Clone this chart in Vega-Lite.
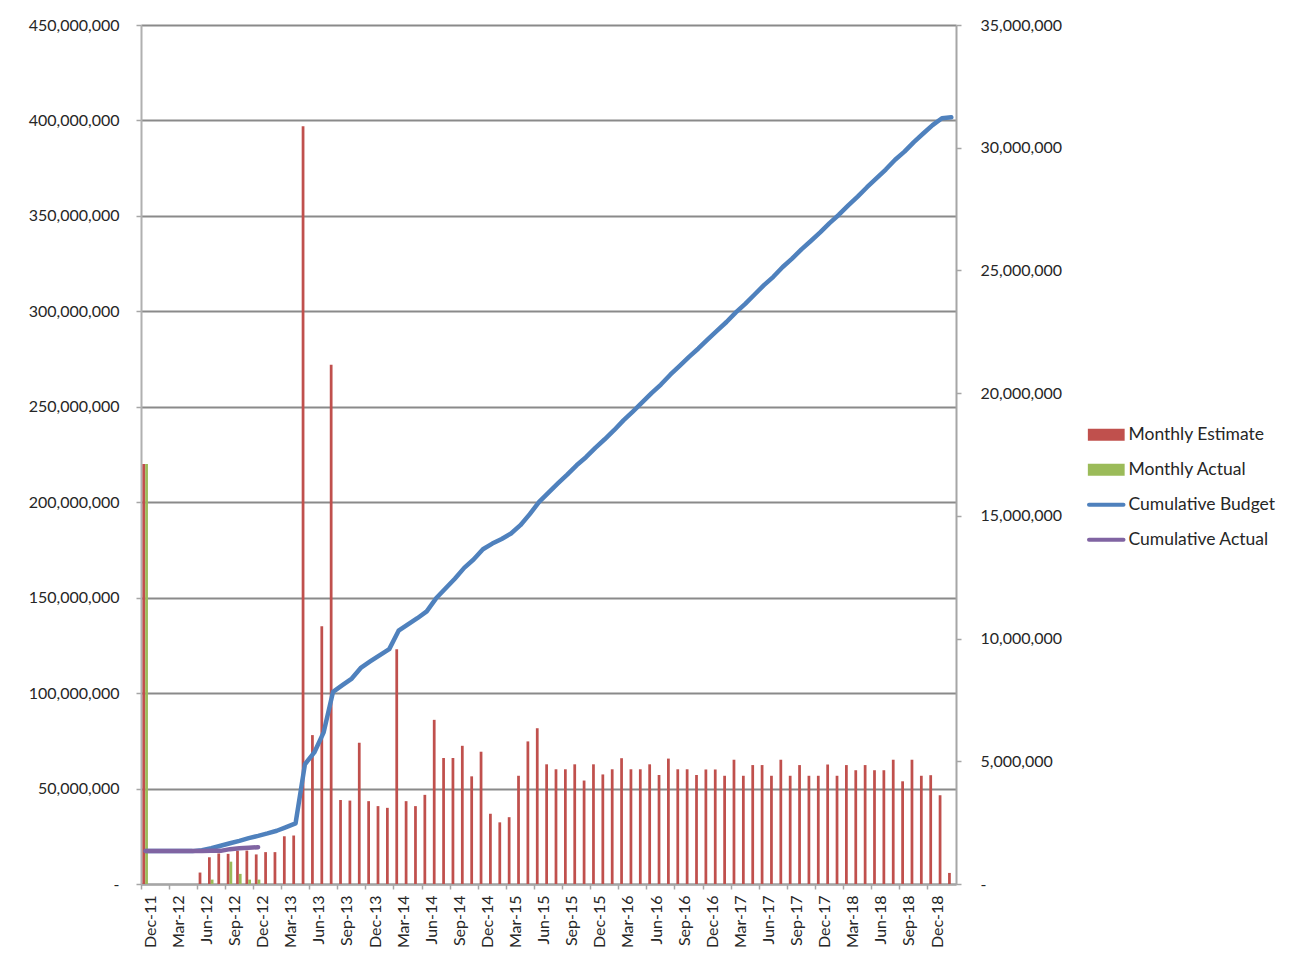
{
  "$schema": "https://vega.github.io/schema/vega-lite/v6.json",
  "width": 815,
  "height": 859,
  "autosize": {"type": "none"},
  "padding": {"left": 141, "top": 25, "right": 339, "bottom": 84},
  "background": "white",
  "config": {
    "font": "Lato",
    "view": {"stroke": null},
    "axis": {"labelFont": "Lato", "labelFontSize": 16, "labelColor": "#262626", "title": null}
  },
  "data": {"values": [
    {"month": "2011-12", "series": "Monthly Estimate", "value": 220000000},
    {"month": "2012-06", "series": "Monthly Estimate", "value": 6000000},
    {"month": "2012-07", "series": "Monthly Estimate", "value": 14000000},
    {"month": "2012-08", "series": "Monthly Estimate", "value": 16000000},
    {"month": "2012-09", "series": "Monthly Estimate", "value": 15800000},
    {"month": "2012-10", "series": "Monthly Estimate", "value": 17500000},
    {"month": "2012-11", "series": "Monthly Estimate", "value": 17500000},
    {"month": "2012-12", "series": "Monthly Estimate", "value": 15500000},
    {"month": "2013-01", "series": "Monthly Estimate", "value": 16700000},
    {"month": "2013-02", "series": "Monthly Estimate", "value": 16700000},
    {"month": "2013-03", "series": "Monthly Estimate", "value": 25000000},
    {"month": "2013-04", "series": "Monthly Estimate", "value": 25400000},
    {"month": "2013-05", "series": "Monthly Estimate", "value": 397000000},
    {"month": "2013-06", "series": "Monthly Estimate", "value": 78000000},
    {"month": "2013-07", "series": "Monthly Estimate", "value": 135000000},
    {"month": "2013-08", "series": "Monthly Estimate", "value": 272000000},
    {"month": "2013-09", "series": "Monthly Estimate", "value": 44000000},
    {"month": "2013-10", "series": "Monthly Estimate", "value": 43700000},
    {"month": "2013-11", "series": "Monthly Estimate", "value": 74000000},
    {"month": "2013-12", "series": "Monthly Estimate", "value": 43400000},
    {"month": "2014-01", "series": "Monthly Estimate", "value": 40800000},
    {"month": "2014-02", "series": "Monthly Estimate", "value": 39900000},
    {"month": "2014-03", "series": "Monthly Estimate", "value": 123000000},
    {"month": "2014-04", "series": "Monthly Estimate", "value": 43400000},
    {"month": "2014-05", "series": "Monthly Estimate", "value": 40800000},
    {"month": "2014-06", "series": "Monthly Estimate", "value": 46700000},
    {"month": "2014-07", "series": "Monthly Estimate", "value": 86000000},
    {"month": "2014-08", "series": "Monthly Estimate", "value": 66000000},
    {"month": "2014-09", "series": "Monthly Estimate", "value": 66000000},
    {"month": "2014-10", "series": "Monthly Estimate", "value": 72400000},
    {"month": "2014-11", "series": "Monthly Estimate", "value": 56400000},
    {"month": "2014-12", "series": "Monthly Estimate", "value": 69300000},
    {"month": "2015-01", "series": "Monthly Estimate", "value": 36800000},
    {"month": "2015-02", "series": "Monthly Estimate", "value": 32300000},
    {"month": "2015-03", "series": "Monthly Estimate", "value": 35000000},
    {"month": "2015-04", "series": "Monthly Estimate", "value": 56700000},
    {"month": "2015-05", "series": "Monthly Estimate", "value": 74700000},
    {"month": "2015-06", "series": "Monthly Estimate", "value": 81600000},
    {"month": "2015-07", "series": "Monthly Estimate", "value": 62700000},
    {"month": "2015-08", "series": "Monthly Estimate", "value": 60100000},
    {"month": "2015-09", "series": "Monthly Estimate", "value": 60100000},
    {"month": "2015-10", "series": "Monthly Estimate", "value": 62700000},
    {"month": "2015-11", "series": "Monthly Estimate", "value": 54200000},
    {"month": "2015-12", "series": "Monthly Estimate", "value": 62700000},
    {"month": "2016-01", "series": "Monthly Estimate", "value": 57400000},
    {"month": "2016-02", "series": "Monthly Estimate", "value": 60100000},
    {"month": "2016-03", "series": "Monthly Estimate", "value": 65900000},
    {"month": "2016-04", "series": "Monthly Estimate", "value": 60100000},
    {"month": "2016-05", "series": "Monthly Estimate", "value": 60100000},
    {"month": "2016-06", "series": "Monthly Estimate", "value": 62700000},
    {"month": "2016-07", "series": "Monthly Estimate", "value": 57100000},
    {"month": "2016-08", "series": "Monthly Estimate", "value": 65700000},
    {"month": "2016-09", "series": "Monthly Estimate", "value": 60100000},
    {"month": "2016-10", "series": "Monthly Estimate", "value": 60100000},
    {"month": "2016-11", "series": "Monthly Estimate", "value": 57100000},
    {"month": "2016-12", "series": "Monthly Estimate", "value": 60000000},
    {"month": "2017-01", "series": "Monthly Estimate", "value": 60000000},
    {"month": "2017-02", "series": "Monthly Estimate", "value": 56700000},
    {"month": "2017-03", "series": "Monthly Estimate", "value": 65100000},
    {"month": "2017-04", "series": "Monthly Estimate", "value": 56700000},
    {"month": "2017-05", "series": "Monthly Estimate", "value": 62300000},
    {"month": "2017-06", "series": "Monthly Estimate", "value": 62300000},
    {"month": "2017-07", "series": "Monthly Estimate", "value": 56700000},
    {"month": "2017-08", "series": "Monthly Estimate", "value": 65100000},
    {"month": "2017-09", "series": "Monthly Estimate", "value": 56700000},
    {"month": "2017-10", "series": "Monthly Estimate", "value": 62300000},
    {"month": "2017-11", "series": "Monthly Estimate", "value": 56700000},
    {"month": "2017-12", "series": "Monthly Estimate", "value": 56700000},
    {"month": "2018-01", "series": "Monthly Estimate", "value": 62600000},
    {"month": "2018-02", "series": "Monthly Estimate", "value": 56700000},
    {"month": "2018-03", "series": "Monthly Estimate", "value": 62300000},
    {"month": "2018-04", "series": "Monthly Estimate", "value": 59600000},
    {"month": "2018-05", "series": "Monthly Estimate", "value": 62300000},
    {"month": "2018-06", "series": "Monthly Estimate", "value": 59600000},
    {"month": "2018-07", "series": "Monthly Estimate", "value": 59600000},
    {"month": "2018-08", "series": "Monthly Estimate", "value": 65100000},
    {"month": "2018-09", "series": "Monthly Estimate", "value": 53800000},
    {"month": "2018-10", "series": "Monthly Estimate", "value": 65100000},
    {"month": "2018-11", "series": "Monthly Estimate", "value": 56700000},
    {"month": "2018-12", "series": "Monthly Estimate", "value": 57000000},
    {"month": "2019-01", "series": "Monthly Estimate", "value": 46500000},
    {"month": "2019-02", "series": "Monthly Estimate", "value": 5800000},
    {"month": "2011-12", "series": "Monthly Actual", "value": 220000000},
    {"month": "2012-07", "series": "Monthly Actual", "value": 2300000},
    {"month": "2012-09", "series": "Monthly Actual", "value": 11700000},
    {"month": "2012-10", "series": "Monthly Actual", "value": 5300000},
    {"month": "2012-11", "series": "Monthly Actual", "value": 2300000},
    {"month": "2012-12", "series": "Monthly Actual", "value": 2300000},
    {"month": "2011-12", "series": "Cumulative Budget", "value": 1340000},
    {"month": "2012-01", "series": "Cumulative Budget", "value": 1340000},
    {"month": "2012-02", "series": "Cumulative Budget", "value": 1340000},
    {"month": "2012-03", "series": "Cumulative Budget", "value": 1340000},
    {"month": "2012-04", "series": "Cumulative Budget", "value": 1340000},
    {"month": "2012-05", "series": "Cumulative Budget", "value": 1340000},
    {"month": "2012-06", "series": "Cumulative Budget", "value": 1380000},
    {"month": "2012-07", "series": "Cumulative Budget", "value": 1460000},
    {"month": "2012-08", "series": "Cumulative Budget", "value": 1560000},
    {"month": "2012-09", "series": "Cumulative Budget", "value": 1660000},
    {"month": "2012-10", "series": "Cumulative Budget", "value": 1760000},
    {"month": "2012-11", "series": "Cumulative Budget", "value": 1870000},
    {"month": "2012-12", "series": "Cumulative Budget", "value": 1960000},
    {"month": "2013-01", "series": "Cumulative Budget", "value": 2060000},
    {"month": "2013-02", "series": "Cumulative Budget", "value": 2170000},
    {"month": "2013-03", "series": "Cumulative Budget", "value": 2320000},
    {"month": "2013-04", "series": "Cumulative Budget", "value": 2470000},
    {"month": "2013-05", "series": "Cumulative Budget", "value": 4880000},
    {"month": "2013-06", "series": "Cumulative Budget", "value": 5360000},
    {"month": "2013-07", "series": "Cumulative Budget", "value": 6180000},
    {"month": "2013-08", "series": "Cumulative Budget", "value": 7830000},
    {"month": "2013-09", "series": "Cumulative Budget", "value": 8100000},
    {"month": "2013-10", "series": "Cumulative Budget", "value": 8370000},
    {"month": "2013-11", "series": "Cumulative Budget", "value": 8820000},
    {"month": "2013-12", "series": "Cumulative Budget", "value": 9080000},
    {"month": "2014-01", "series": "Cumulative Budget", "value": 9330000},
    {"month": "2014-02", "series": "Cumulative Budget", "value": 9570000},
    {"month": "2014-03", "series": "Cumulative Budget", "value": 10320000},
    {"month": "2014-04", "series": "Cumulative Budget", "value": 10580000},
    {"month": "2014-05", "series": "Cumulative Budget", "value": 10830000},
    {"month": "2014-06", "series": "Cumulative Budget", "value": 11110000},
    {"month": "2014-07", "series": "Cumulative Budget", "value": 11640000},
    {"month": "2014-08", "series": "Cumulative Budget", "value": 12040000},
    {"month": "2014-09", "series": "Cumulative Budget", "value": 12440000},
    {"month": "2014-10", "series": "Cumulative Budget", "value": 12880000},
    {"month": "2014-11", "series": "Cumulative Budget", "value": 13220000},
    {"month": "2014-12", "series": "Cumulative Budget", "value": 13640000},
    {"month": "2015-01", "series": "Cumulative Budget", "value": 13870000},
    {"month": "2015-02", "series": "Cumulative Budget", "value": 14060000},
    {"month": "2015-03", "series": "Cumulative Budget", "value": 14280000},
    {"month": "2015-04", "series": "Cumulative Budget", "value": 14620000},
    {"month": "2015-05", "series": "Cumulative Budget", "value": 15070000},
    {"month": "2015-06", "series": "Cumulative Budget", "value": 15570000},
    {"month": "2015-07", "series": "Cumulative Budget", "value": 15950000},
    {"month": "2015-08", "series": "Cumulative Budget", "value": 16320000},
    {"month": "2015-09", "series": "Cumulative Budget", "value": 16680000},
    {"month": "2015-10", "series": "Cumulative Budget", "value": 17060000},
    {"month": "2015-11", "series": "Cumulative Budget", "value": 17390000},
    {"month": "2015-12", "series": "Cumulative Budget", "value": 17770000},
    {"month": "2016-01", "series": "Cumulative Budget", "value": 18120000},
    {"month": "2016-02", "series": "Cumulative Budget", "value": 18490000},
    {"month": "2016-03", "series": "Cumulative Budget", "value": 18890000},
    {"month": "2016-04", "series": "Cumulative Budget", "value": 19250000},
    {"month": "2016-05", "series": "Cumulative Budget", "value": 19620000},
    {"month": "2016-06", "series": "Cumulative Budget", "value": 20000000},
    {"month": "2016-07", "series": "Cumulative Budget", "value": 20350000},
    {"month": "2016-08", "series": "Cumulative Budget", "value": 20750000},
    {"month": "2016-09", "series": "Cumulative Budget", "value": 21110000},
    {"month": "2016-10", "series": "Cumulative Budget", "value": 21480000},
    {"month": "2016-11", "series": "Cumulative Budget", "value": 21820000},
    {"month": "2016-12", "series": "Cumulative Budget", "value": 22190000},
    {"month": "2017-01", "series": "Cumulative Budget", "value": 22550000},
    {"month": "2017-02", "series": "Cumulative Budget", "value": 22900000},
    {"month": "2017-03", "series": "Cumulative Budget", "value": 23290000},
    {"month": "2017-04", "series": "Cumulative Budget", "value": 23640000},
    {"month": "2017-05", "series": "Cumulative Budget", "value": 24020000},
    {"month": "2017-06", "series": "Cumulative Budget", "value": 24400000},
    {"month": "2017-07", "series": "Cumulative Budget", "value": 24740000},
    {"month": "2017-08", "series": "Cumulative Budget", "value": 25140000},
    {"month": "2017-09", "series": "Cumulative Budget", "value": 25480000},
    {"month": "2017-10", "series": "Cumulative Budget", "value": 25860000},
    {"month": "2017-11", "series": "Cumulative Budget", "value": 26200000},
    {"month": "2017-12", "series": "Cumulative Budget", "value": 26550000},
    {"month": "2018-01", "series": "Cumulative Budget", "value": 26930000},
    {"month": "2018-02", "series": "Cumulative Budget", "value": 27270000},
    {"month": "2018-03", "series": "Cumulative Budget", "value": 27650000},
    {"month": "2018-04", "series": "Cumulative Budget", "value": 28010000},
    {"month": "2018-05", "series": "Cumulative Budget", "value": 28390000},
    {"month": "2018-06", "series": "Cumulative Budget", "value": 28750000},
    {"month": "2018-07", "series": "Cumulative Budget", "value": 29110000},
    {"month": "2018-08", "series": "Cumulative Budget", "value": 29510000},
    {"month": "2018-09", "series": "Cumulative Budget", "value": 29840000},
    {"month": "2018-10", "series": "Cumulative Budget", "value": 30230000},
    {"month": "2018-11", "series": "Cumulative Budget", "value": 30580000},
    {"month": "2018-12", "series": "Cumulative Budget", "value": 30920000},
    {"month": "2019-01", "series": "Cumulative Budget", "value": 31200000},
    {"month": "2019-02", "series": "Cumulative Budget", "value": 31240000},
    {"month": "2011-12", "series": "Cumulative Actual", "value": 1340000},
    {"month": "2012-01", "series": "Cumulative Actual", "value": 1340000},
    {"month": "2012-02", "series": "Cumulative Actual", "value": 1340000},
    {"month": "2012-03", "series": "Cumulative Actual", "value": 1340000},
    {"month": "2012-04", "series": "Cumulative Actual", "value": 1340000},
    {"month": "2012-05", "series": "Cumulative Actual", "value": 1340000},
    {"month": "2012-06", "series": "Cumulative Actual", "value": 1340000},
    {"month": "2012-07", "series": "Cumulative Actual", "value": 1350000},
    {"month": "2012-08", "series": "Cumulative Actual", "value": 1350000},
    {"month": "2012-09", "series": "Cumulative Actual", "value": 1420000},
    {"month": "2012-10", "series": "Cumulative Actual", "value": 1460000},
    {"month": "2012-11", "series": "Cumulative Actual", "value": 1480000},
    {"month": "2012-12", "series": "Cumulative Actual", "value": 1500000}
  ]},
  "layer": [
    {
      "transform": [{"filter": "datum.series == 'Monthly Estimate' || datum.series == 'Monthly Actual'"}],
      "mark": {"type": "bar"},
      "encoding": {
        "x": {
          "field": "month", "type": "ordinal",
          "scale": {"paddingInner": 0, "paddingOuter": 0},
          "axis": {
            "values": ["2011-12","2012-03","2012-06","2012-09","2012-12","2013-03","2013-06","2013-09","2013-12","2014-03","2014-06","2014-09","2014-12","2015-03","2015-06","2015-09","2015-12","2016-03","2016-06","2016-09","2016-12","2017-03","2017-06","2017-09","2017-12","2018-03","2018-06","2018-09","2018-12"],
            "bandPosition": 0,
            "labelAngle": -90,
            "labelOffset": 5,
            "labelExpr": "['Jan','Feb','Mar','Apr','May','Jun','Jul','Aug','Sep','Oct','Nov','Dec'][toNumber(slice(datum.value,5,7))-1] + '-' + slice(datum.value,2,4)",
            "tickSize": 5, "tickColor": "#a6a6a6", "tickWidth": 1.5,
            "domainColor": "#a6a6a6", "domainWidth": 2,
            "labelPadding": 6, "grid": false, "title": null
          }
        },
        "xOffset": {
          "field": "series", "type": "nominal",
          "scale": {"domain": ["Monthly Estimate", "Monthly Actual"], "paddingInner": 0, "paddingOuter": 0.7, "align": 0.37}
        },
        "y": {
          "field": "value", "type": "quantitative",
          "scale": {"domain": [0, 450000000], "nice": false},
          "axis": {
            "values": [0,50000000,100000000,150000000,200000000,250000000,300000000,350000000,400000000,450000000],
            "labelExpr": "datum.value == 0 ? '-\u00a0\u00a0' : format(datum.value, ',')",
            "grid": true, "gridColor": "#8a8a8a", "gridWidth": 2,
            "domainColor": "#b0b0b0", "domainWidth": 2,
            "tickSize": 5, "tickColor": "#a6a6a6", "tickWidth": 1.5,
            "labelPadding": 17, "title": null
          }
        },
        "color": {
          "field": "series", "type": "nominal",
          "scale": {"domain": ["Monthly Estimate", "Monthly Actual", "Cumulative Budget", "Cumulative Actual"], "range": ["#C0504D", "#9BBB59", "#4F81BD", "#8064A2"]},
          "legend": {
            "orient": "none", "legendX": 958, "legendY": 401, "title": null, "padding": 0,
            "symbolType": "stroke", "symbolSize": 529, "labelFont": "Lato", "labelFontSize": 17.5, "labelColor": "#262626",
            "labelOffset": 12, "rowPadding": 16,
            "encode": {"symbols": {"update": {
              "shape": {"signal": "datum.value == 'Monthly Estimate' || datum.value == 'Monthly Actual' ? 'M-1.73,-0.52H1.47V0.52H-1.73Z' : 'M-1.63,0H1.37'"},
              "fill": {"signal": "datum.value == 'Monthly Estimate' || datum.value == 'Monthly Actual' ? scale('color', datum.value) : 'transparent'"},
              "stroke": {"signal": "datum.value == 'Monthly Estimate' || datum.value == 'Monthly Actual' ? 'transparent' : scale('color', datum.value)"},
              "strokeWidth": {"signal": "datum.value == 'Monthly Estimate' || datum.value == 'Monthly Actual' ? 0 : 4"},
              "strokeCap": {"value": "round"},
              "opacity": {"value": 1}, "strokeOpacity": {"value": 1}, "fillOpacity": {"value": 1}
            }}}
          }
        }
      }
    },
    {
      "encoding": {
        "x": {"field": "month", "type": "ordinal"},
        "y": {
          "field": "value", "type": "quantitative",
          "scale": {"domain": [0, 35000000], "nice": false},
          "axis": {
            "orient": "right",
            "values": [0,5000000,10000000,15000000,20000000,25000000,30000000,35000000],
            "labelExpr": "datum.value == 0 ? '-' : format(datum.value, ',')",
            "grid": false,
            "domainColor": "#a6a6a6", "domainWidth": 2,
            "tickSize": 5, "tickColor": "#a6a6a6", "tickWidth": 1.5,
            "labelPadding": 19, "title": null
          }
        },
        "color": {
          "field": "series", "type": "nominal",
          "scale": {"domain": ["Monthly Estimate", "Monthly Actual", "Cumulative Budget", "Cumulative Actual"], "range": ["#C0504D", "#9BBB59", "#4F81BD", "#8064A2"]}
        }
      },
      "layer": [
        {
          "transform": [{"filter": "datum.series == 'Cumulative Budget'"}],
          "mark": {"type": "line", "strokeWidth": 4.5, "strokeJoin": "round", "strokeCap": "round"}
        },
        {
          "transform": [{"filter": "datum.series == 'Cumulative Actual'"}],
          "mark": {"type": "line", "strokeWidth": 4.5, "strokeJoin": "round", "strokeCap": "round"}
        }
      ]
    }
  ],
  "resolve": {"scale": {"y": "independent"}}
}
